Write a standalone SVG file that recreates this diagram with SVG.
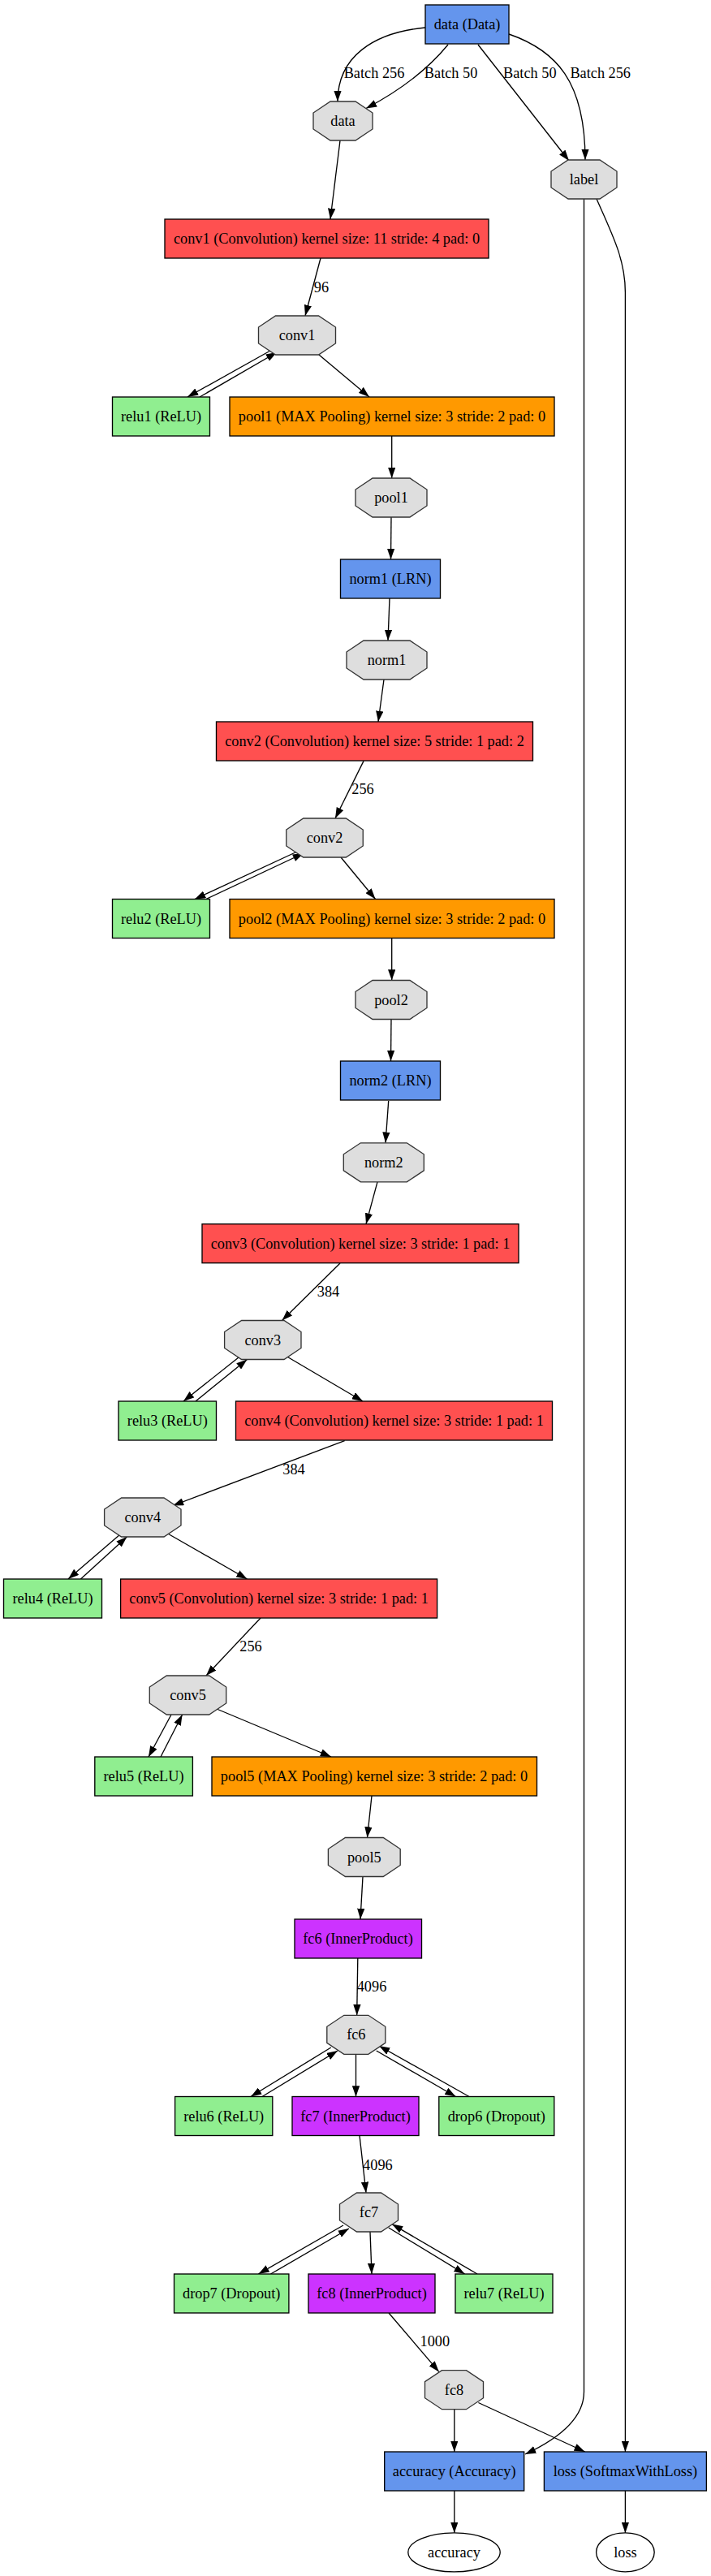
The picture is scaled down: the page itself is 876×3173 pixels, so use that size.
<svg xmlns="http://www.w3.org/2000/svg" width="876" height="3173" viewBox="0 0 876 3173">
<style>
text{font-family:"Liberation Serif","Times New Roman",serif;font-size:18.3px;text-anchor:middle;fill:#000}
.b{stroke:#000;stroke-width:1.33}
.blue{fill:#6495ED}.conv{fill:#FF5050}.pool{fill:#FF9900}.relu{fill:#90EE90}.ip{fill:#CC33FF}
.oct{fill:#DEDEDE;stroke:#333;stroke-width:1.33}
.ell{fill:#fff;stroke:#000;stroke-width:1.33}
.e path{fill:none;stroke:#000;stroke-width:1.33;marker-end:url(#ah)}
</style>
<defs>
<marker id="ah" markerUnits="userSpaceOnUse" markerWidth="13.3" markerHeight="9.34" viewBox="0 0 13.3 9.34" refX="13.3" refY="4.67" orient="auto"><path d="M0,0 L13.3,4.67 L0,9.34 z" fill="#000"/></marker>
</defs>
<rect width="876" height="3173" fill="#fff"/>
<g class="e" id="edges">
<path d="M524,34 C460,40 416,70 416,125"/>
<path d="M552,55 Q515,100 451,133.5"/>
<path d="M589,55 L701,198"/>
<path d="M627,42 C685,62 721,100 721,197"/>
<path d="M419,173 L407,270"/>
<path d="M395,318 L376,389"/>
<path d="M333,432 L231,489"/>
<path d="M246,489 L341,434"/>
<path d="M393,437 L455,489"/>
<path d="M482.7,537 L482.7,589"/>
<path d="M482,637 L481.5,689"/>
<path d="M480,737 L478,789"/>
<path d="M473,837 L466,889"/>
<path d="M448,937.4 L413,1008"/>
<path d="M366,1049 L240,1107.5"/>
<path d="M254,1107.5 L374,1051"/>
<path d="M420,1056 L462.5,1107.5"/>
<path d="M482.7,1156 L482.7,1207.5"/>
<path d="M482,1255.5 L481.5,1307"/>
<path d="M478.7,1356 L475,1407.8"/>
<path d="M465,1455.8 L451,1507.7"/>
<path d="M419,1556 L347.5,1626.5"/>
<path d="M294,1672 L226,1726"/>
<path d="M241,1726 L304.5,1674.5"/>
<path d="M353.6,1671 L447,1726"/>
<path d="M424.6,1774.6 L213,1854.5"/>
<path d="M148,1890 L84,1945"/>
<path d="M99.4,1945 L156.4,1893"/>
<path d="M206.7,1889 L304.5,1945"/>
<path d="M321,1993 L254,2064"/>
<path d="M211,2112 L183,2164"/>
<path d="M198,2164 L224.6,2112"/>
<path d="M267,2105 L408,2164"/>
<path d="M458,2212 L452.5,2263.5"/>
<path d="M447,2311.5 L444,2364"/>
<path d="M440.8,2412 L439.7,2482.3"/>
<path d="M407.8,2522 L309,2582.5"/>
<path d="M323,2582.5 L416,2526"/>
<path d="M438.5,2530.3 L438.5,2582.5"/>
<path d="M463.7,2526 L561.5,2582.5"/>
<path d="M578,2582.5 L467,2520"/>
<path d="M443,2630.5 L451,2701"/>
<path d="M423,2741 L318.4,2801"/>
<path d="M333.5,2801 L430,2745"/>
<path d="M456,2749 L458,2801"/>
<path d="M478.8,2744 L572.6,2801"/>
<path d="M588,2801 L483,2739.6"/>
<path d="M479,2849 L540.8,2921.4"/>
<path d="M559.8,2967.7 L559.8,3020"/>
<path d="M589.4,2959.5 L720.7,3020"/>
<path d="M719.5,245 L719.5,2946 C719.5,2985 675,3010 647,3023"/>
<path d="M735,245 C755,290 770.4,320 770.4,360 L770.4,3020"/>
<path d="M559.8,3068 L559.8,3120"/>
<path d="M770.4,3068 L770.4,3120"/>
<text x="461" y="96">Batch 256</text>
<text x="555.6" y="96">Batch 50</text>
<text x="652.8" y="96">Batch 50</text>
<text x="739.7" y="96">Batch 256</text>
<text x="396" y="360">96</text>
<text x="447" y="978">256</text>
<text x="404.5" y="1597">384</text>
<text x="362" y="1816">384</text>
<text x="309" y="2034">256</text>
<text x="458" y="2453">4096</text>
<text x="465.4" y="2672.5">4096</text>
<text x="535.8" y="2890">1000</text>
</g>
<g id="n_data_layer"><rect class="b blue" x="524" y="6" width="103" height="48"/><text x="575.5" y="36">data (Data)</text></g>
<g id="n_data"><polygon class="oct" points="407,125 438,125 459,139 459,159 438,173 407,173 386,159 386,139"/><text x="422.5" y="155">data</text></g>
<g id="n_label"><polygon class="oct" points="700,197 739,197 760,211 760,231 739,245 700,245 679,231 679,211"/><text x="719.5" y="227">label</text></g>
<g id="n_conv1_layer"><rect class="b conv" x="203" y="270" width="399" height="48"/><text x="402.5" y="300">conv1 (Convolution) kernel size: 11 stride: 4 pad: 0</text></g>
<g id="n_conv1"><polygon class="oct" points="339.5,389 392.5,389 413.5,403 413.5,423 392.5,437 339.5,437 318.5,423 318.5,403"/><text x="366" y="419">conv1</text></g>
<g id="n_relu1"><rect class="b relu" x="138.5" y="489" width="120" height="48"/><text x="198.5" y="519">relu1 (ReLU)</text></g>
<g id="n_pool1_layer"><rect class="b pool" x="283" y="489" width="400" height="48"/><text x="483" y="519">pool1 (MAX Pooling) kernel size: 3 stride: 2 pad: 0</text></g>
<g id="n_pool1"><polygon class="oct" points="459,589 505,589 526,603 526,623 505,637 459,637 438,623 438,603"/><text x="482" y="619">pool1</text></g>
<g id="n_norm1_layer"><rect class="b blue" x="419.5" y="689" width="123" height="48"/><text x="481" y="719">norm1 (LRN)</text></g>
<g id="n_norm1"><polygon class="oct" points="448,789 505,789 526,803 526,823 505,837 448,837 427,823 427,803"/><text x="476.5" y="819">norm1</text></g>
<g id="n_conv2_layer"><rect class="b conv" x="266.5" y="889" width="390" height="48"/><text x="461.5" y="919">conv2 (Convolution) kernel size: 5 stride: 1 pad: 2</text></g>
<g id="n_conv2"><polygon class="oct" points="373.75,1008 426.25,1008 447.25,1022 447.25,1042 426.25,1056 373.75,1056 352.75,1042 352.75,1022"/><text x="400" y="1038">conv2</text></g>
<g id="n_relu2"><rect class="b relu" x="138.5" y="1107.5" width="120" height="48"/><text x="198.5" y="1137.5">relu2 (ReLU)</text></g>
<g id="n_pool2_layer"><rect class="b pool" x="283" y="1107.5" width="400" height="48"/><text x="483" y="1137.5">pool2 (MAX Pooling) kernel size: 3 stride: 2 pad: 0</text></g>
<g id="n_pool2"><polygon class="oct" points="459,1207.5 505,1207.5 526,1221.5 526,1241.5 505,1255.5 459,1255.5 438,1241.5 438,1221.5"/><text x="482" y="1237.5">pool2</text></g>
<g id="n_norm2_layer"><rect class="b blue" x="419.5" y="1307" width="123" height="48"/><text x="481" y="1337">norm2 (LRN)</text></g>
<g id="n_norm2"><polygon class="oct" points="444.3,1407.8 501.3,1407.8 522.3,1421.8 522.3,1441.8 501.3,1455.8 444.3,1455.8 423.3,1441.8 423.3,1421.8"/><text x="472.8" y="1437.8">norm2</text></g>
<g id="n_conv3_layer"><rect class="b conv" x="249" y="1507.7" width="390" height="48"/><text x="444" y="1537.7">conv3 (Convolution) kernel size: 3 stride: 1 pad: 1</text></g>
<g id="n_conv3"><polygon class="oct" points="297.6,1626.5 350,1626.5 371,1640.5 371,1660.5 350,1674.5 297.6,1674.5 276.6,1660.5 276.6,1640.5"/><text x="323.8" y="1656.5">conv3</text></g>
<g id="n_relu3"><rect class="b relu" x="146" y="1726" width="120.5" height="48"/><text x="206.3" y="1756">relu3 (ReLU)</text></g>
<g id="n_conv4_layer"><rect class="b conv" x="290.5" y="1726" width="390" height="48"/><text x="485.5" y="1756">conv4 (Convolution) kernel size: 3 stride: 1 pad: 1</text></g>
<g id="n_conv4"><polygon class="oct" points="149.6,1845 202,1845 223,1859 223,1879 202,1893 149.6,1893 128.6,1879 128.6,1859"/><text x="175.8" y="1875">conv4</text></g>
<g id="n_relu4"><rect class="b relu" x="4.5" y="1945" width="121" height="48"/><text x="65" y="1975">relu4 (ReLU)</text></g>
<g id="n_conv5_layer"><rect class="b conv" x="148.6" y="1945" width="390" height="48"/><text x="343.6" y="1975">conv5 (Convolution) kernel size: 3 stride: 1 pad: 1</text></g>
<g id="n_conv5"><polygon class="oct" points="205.3,2064 257.7,2064 278.7,2078 278.7,2098 257.7,2112 205.3,2112 184.3,2098 184.3,2078"/><text x="231.5" y="2094">conv5</text></g>
<g id="n_relu5"><rect class="b relu" x="116.8" y="2164" width="120.6" height="48"/><text x="177" y="2194">relu5 (ReLU)</text></g>
<g id="n_pool5_layer"><rect class="b pool" x="261" y="2164" width="400.5" height="48"/><text x="461" y="2194">pool5 (MAX Pooling) kernel size: 3 stride: 2 pad: 0</text></g>
<g id="n_pool5"><polygon class="oct" points="425.4,2263.5 472.2,2263.5 493.2,2277.5 493.2,2297.5 472.2,2311.5 425.4,2311.5 404.4,2297.5 404.4,2277.5"/><text x="448.8" y="2293.5">pool5</text></g>
<g id="n_fc6_layer"><rect class="b ip" x="363" y="2364" width="156.5" height="48"/><text x="441" y="2394">fc6 (InnerProduct)</text></g>
<g id="n_fc6"><polygon class="oct" points="423.8,2482.3 453.8,2482.3 474.8,2496.3 474.8,2516.3 453.8,2530.3 423.8,2530.3 402.8,2516.3 402.8,2496.3"/><text x="438.8" y="2512.3">fc6</text></g>
<g id="n_relu6"><rect class="b relu" x="215.6" y="2582.5" width="120.2" height="48"/><text x="275.7" y="2612.5">relu6 (ReLU)</text></g>
<g id="n_fc7_layer"><rect class="b ip" x="360" y="2582.5" width="156" height="48"/><text x="438" y="2612.5">fc7 (InnerProduct)</text></g>
<g id="n_drop6"><rect class="b relu" x="540.8" y="2582.5" width="142" height="48"/><text x="611.8" y="2612.5">drop6 (Dropout)</text></g>
<g id="n_fc7"><polygon class="oct" points="439.5,2701 469.5,2701 490.5,2715 490.5,2735 469.5,2749 439.5,2749 418.5,2735 418.5,2715"/><text x="454.5" y="2731">fc7</text></g>
<g id="n_drop7"><rect class="b relu" x="214.5" y="2801" width="141.4" height="48"/><text x="285.2" y="2831">drop7 (Dropout)</text></g>
<g id="n_fc8_layer"><rect class="b ip" x="380" y="2801" width="156" height="48"/><text x="458" y="2831">fc8 (InnerProduct)</text></g>
<g id="n_relu7"><rect class="b relu" x="561" y="2801" width="120" height="48"/><text x="621" y="2831">relu7 (ReLU)</text></g>
<g id="n_fc8"><polygon class="oct" points="544.5,2919.7 574.5,2919.7 595.5,2933.7 595.5,2953.7 574.5,2967.7 544.5,2967.7 523.5,2953.7 523.5,2933.7"/><text x="559.5" y="2949.7">fc8</text></g>
<g id="n_accuracy_layer"><rect class="b blue" x="473.7" y="3020" width="172" height="48"/><text x="559.7" y="3050">accuracy (Accuracy)</text></g>
<g id="n_loss_layer"><rect class="b blue" x="670.4" y="3020" width="200" height="48"/><text x="770.4" y="3050">loss (SoftmaxWithLoss)</text></g>
<g id="n_accuracy"><ellipse class="ell" cx="559.5" cy="3143.8" rx="56.7" ry="24"/><text x="559.5" y="3149.8">accuracy</text></g>
<g id="n_loss"><ellipse class="ell" cx="770.4" cy="3143.8" rx="35.8" ry="24"/><text x="770.4" y="3149.8">loss</text></g>
</svg>
